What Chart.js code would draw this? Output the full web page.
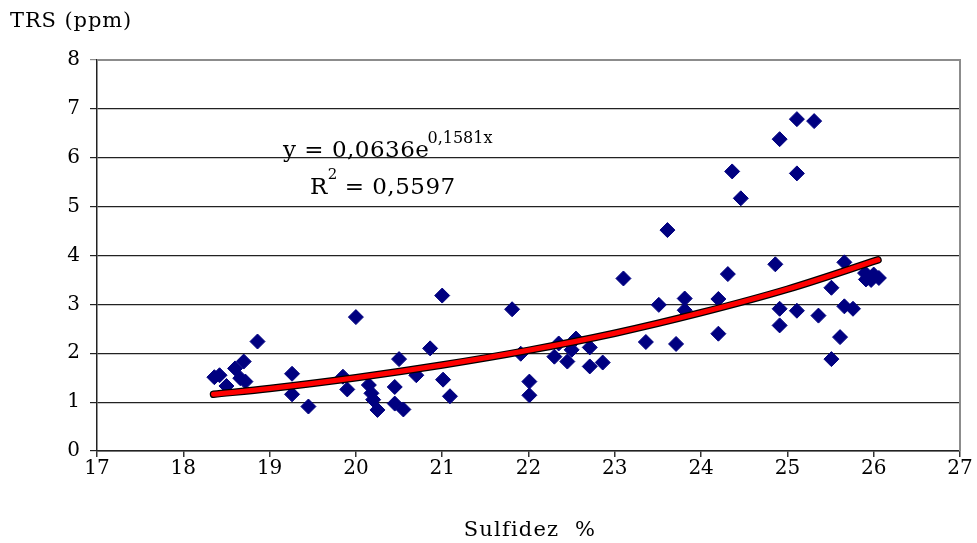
<!DOCTYPE html>
<html>
<head>
<meta charset="utf-8">
<script src="https://cdn.jsdelivr.net/npm/chart.js@4.4.0/dist/chart.umd.min.js"></script>
<style>
  html, body { margin: 0; padding: 0; background: #fff; }
  #wrap { width: 977px; height: 543px; }
</style>
</head>
<body>
<div id="wrap"><canvas id="myChart" width="977" height="543"></canvas></div>
<script>
// Sulfidez (%) vs TRS (ppm)
const sulfidez = [
  18.36, 18.42, 18.50, 18.60, 18.66, 18.70, 18.72, 18.86,
  19.26, 19.26, 19.45, 19.85, 19.90, 20.00, 20.15, 20.18, 20.20, 20.25,
  20.45, 20.50, 20.45, 20.55, 20.70, 20.86, 21.00, 21.01, 21.09,
  21.81, 21.91, 22.01, 22.01, 22.30, 22.35, 22.45, 22.50, 22.55, 22.71, 22.71, 22.86,
  23.10, 23.36, 23.51, 23.61, 23.71, 23.81, 23.81,
  24.20, 24.20, 24.31, 24.36, 24.46, 24.86, 24.91, 24.91, 24.91,
  25.11, 25.11, 25.11, 25.31, 25.36, 25.51, 25.51, 25.61, 25.66, 25.66, 25.76,
  25.90, 25.91, 26.00, 26.06, 25.97
];
const trs = [
  1.51, 1.55, 1.33, 1.69, 1.49, 1.83, 1.42, 2.24,
  1.58, 1.16, 0.91, 1.52, 1.26, 2.74, 1.35, 1.18, 1.05, 0.84,
  1.31, 1.88, 0.97, 0.85, 1.55, 2.10, 3.18, 1.46, 1.12,
  2.90, 1.99, 1.42, 1.14, 1.93, 2.20, 1.83, 2.07, 2.30, 2.12, 1.73, 1.81,
  3.53, 2.23, 2.99, 4.52, 2.19, 3.12, 2.88,
  3.11, 2.40, 3.62, 5.72, 5.17, 3.82, 6.38, 2.91, 2.57,
  6.79, 5.68, 2.87, 6.75, 2.77, 3.34, 1.88, 2.33, 3.86, 2.96, 2.91,
  3.64, 3.51, 3.61, 3.54, 3.50
];

// trendline as it appears on the chart
const trendX = [18.35, 19, 20, 21, 22, 23, 24, 25, 26.05];
const trendY = [1.16, 1.28, 1.50, 1.76, 2.06, 2.41, 2.83, 3.31, 3.91];

const xTicks = [17, 18, 19, 20, 21, 22, 23, 24, 25, 26, 27];
const yTicks = [0, 1, 2, 3, 4, 5, 6, 7, 8];

const FONT = '"DejaVu Serif", "Liberation Serif", serif';

const points = sulfidez.map((x, i) => ({ x: x, y: trs[i] }));
const trend = trendX.map((x, i) => ({ x: x, y: trendY[i] }));

// extra text + frame (axis titles, equation, grey border)
const textPlugin = {
  id: 'texts',
  afterDraw(chart) {
    const ctx = chart.ctx;
    const a = chart.chartArea;
    ctx.save();
    // grey frame on top and right
    ctx.strokeStyle = '#8c8c8c';
    ctx.lineWidth = 2;
    ctx.beginPath();
    ctx.moveTo(a.left, a.top);
    ctx.lineTo(a.right, a.top);
    ctx.lineTo(a.right, a.bottom);
    ctx.stroke();

    ctx.fillStyle = '#000';
    ctx.textBaseline = 'alphabetic';
    ctx.font = '21px ' + FONT;
    ctx.letterSpacing = '0.9px';
    ctx.textAlign = 'left';
    ctx.fillText('TRS (ppm)', 10, 27);
    ctx.letterSpacing = '1.2px';
    ctx.textAlign = 'center';
    ctx.fillText('Sulfidez  %', 530, 536);

    // equation
    ctx.textAlign = 'left';
    ctx.letterSpacing = '0.5px';
    ctx.font = '23px ' + FONT;
    const eq = 'y = 0,0636e';
    ctx.fillText(eq, 283, 157);
    const w = ctx.measureText(eq).width;
    ctx.font = '16px ' + FONT;
    ctx.letterSpacing = '0px';
    ctx.fillText('0,1581x', 283 + w - 2, 143);

    ctx.letterSpacing = '0.5px';
    ctx.font = '23px ' + FONT;
    ctx.fillText('R', 310, 194);
    const rw = ctx.measureText('R').width;
    ctx.font = '15px ' + FONT;
    ctx.fillText('2', 310 + rw, 179);
    ctx.font = '23px ' + FONT;
    ctx.fillText(' = 0,5597', 310 + rw + 9, 194);
    ctx.restore();
  }
};

const ctx = document.getElementById('myChart').getContext('2d');
const chart = new Chart(ctx, {
  type: 'scatter',
  data: {
    datasets: [
      {
        label: 'trend',
        data: trend,
        showLine: true,
        borderColor: '#ff0000',
        borderWidth: 5,
        pointRadius: 0,
        cubicInterpolationMode: 'monotone',
        borderCapStyle: 'round',
        order: 0
      },
      {
        label: 'trend outline',
        data: trend,
        showLine: true,
        borderColor: '#000000',
        borderWidth: 7.5,
        pointRadius: 0,
        cubicInterpolationMode: 'monotone',
        borderCapStyle: 'round',
        order: 1
      },
      {
        label: 'TRS',
        data: points,
        pointStyle: 'rectRot',
        pointRadius: 7.5,
        pointBackgroundColor: '#000080',
        pointBorderColor: '#000080',
        pointBorderWidth: 1,
        order: 2
      }
    ]
  },
  options: {
    responsive: false,
    animation: false,
    layout: { padding: { left: 0, right: 17, top: 60, bottom: 0 } },
    plugins: {
      legend: { display: false },
      tooltip: { enabled: false }
    },
    scales: {
      x: {
        type: 'linear',
        min: 17,
        max: 27,
        afterBuildTicks: (axis) => { axis.ticks = xTicks.map((v) => ({ value: v })); },
        afterFit: (axis) => { axis.height = 92; },
        grid: {
          drawOnChartArea: false,
          drawTicks: true,
          tickLength: 6,
          color: '#333',
          lineWidth: 1.5
        },
        border: { color: '#222', width: 1.5 },
        ticks: {
          color: '#000',
          padding: 0,
          font: { family: FONT, size: 20 },
          maxRotation: 0
        }
      },
      y: {
        type: 'linear',
        min: 0,
        max: 8,
        afterBuildTicks: (axis) => { axis.ticks = yTicks.map((v) => ({ value: v })); },
        afterFit: (axis) => { axis.width = 97; },
        grid: {
          drawTicks: true,
          tickLength: 7,
          color: (c) => (c.tick && c.tick.value === 8 ? '#8c8c8c' : '#222'),
          lineWidth: 1.2
        },
        border: { color: '#222', width: 1.5 },
        ticks: {
          color: '#000',
          padding: 10,
          font: { family: FONT, size: 20 }
        }
      }
    }
  },
  plugins: [textPlugin]
});
</script>
</body>
</html>
